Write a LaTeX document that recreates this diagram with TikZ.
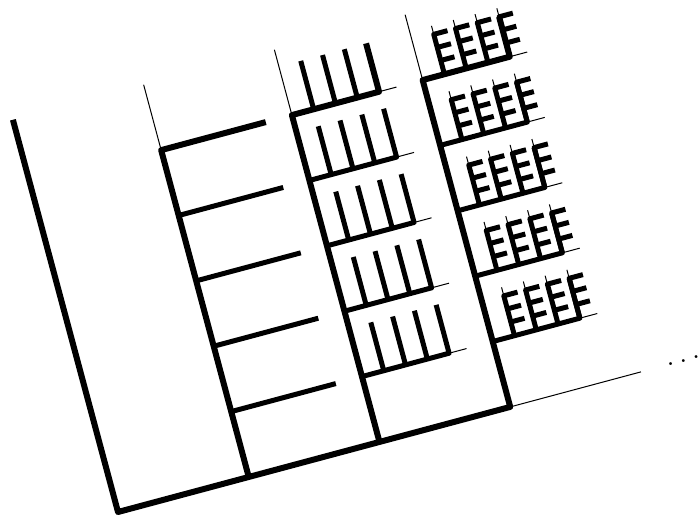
\documentclass[tikz,border=0pt]{standalone}
\usepackage{tikz}
\usetikzlibrary{calc}
\tikzset{
    post/.style ={draw=black, line width=2.4pt, line join=round},
    rung/.style ={draw=black, line width=2pt, line join=round},
    tine/.style ={draw=black, line width=2pt, line join=round},
    hair/.style ={draw=black, line width=0.4pt},
    lbl/.style  ={font=\large, inner sep=0pt, anchor=base}
}
\newcommand{\ebar}{0.61}   % thick part of a small prong
\newcommand{\etop}{0.74}   % full height of a small prong

\begin{document}
\begin{tikzpicture}[x=0.4pt, y=0.4pt]
  \useasboundingbox (-118,-4) rectangle (582,512);
  \begin{scope}[rotate=15, x=27.07pt, y=27.07pt]
    % outer frame: left post, base and last column
    \draw[post] (0,6) -- (0,0) -- (6,0) -- (6,5) -- (7.333,5) -- (7.333,5+\ebar);
    \draw[hair] (6,0) -- (8,0);
    \draw[hair] (6,5) -- (6,6);
    \node[lbl, rotate=15] (dots) at (8.65,-0.022) {$\ldots$};

    % second column
    \draw[post] (2,0) -- (2,5) -- (3.6,5);
    \draw[hair] (2,5) -- (2,6);
    \foreach \j in {1,...,4}
      \draw[rung] (2,\j) -- (3.6,\j);

    % third column
    \draw[post] (4,0) -- (4,5) -- (5.333,5) -- (5.333,5+\etop);
    \draw[hair] (4,5) -- (4,6);
    \foreach \j in {1,...,5} {
      \ifnum\j<5
        \draw[rung] (4,\j) -- (5.333,\j) -- (5.333,\j+\etop);
      \fi
      \draw[hair] (5.333,\j) -- (5.6,\j);
      \foreach \k in {1,2,3}
        \draw[rung] (4+\k/3,\j) -- ++(0,\etop);
    }

    % fourth column
    \foreach \j in {1,...,5} {
      \ifnum\j<5
        \draw[rung] (6,\j) -- (7.333,\j) -- (7.333,\j+\ebar);
      \fi
      \draw[hair] (7.333,\j) -- (7.6,\j);
      \foreach \k in {1,...,4} {
        \draw[tine] (6+\k/3,\j) -- (6+\k/3,\j+\ebar) -- ++(0.21,0);
        \draw[tine] (6+\k/3,\j+0.21) -- ++(0.21,0);
        \draw[tine] (6+\k/3,\j+0.41) -- ++(0.21,0);
        \draw[hair] (6+\k/3,\j+\ebar) -- (6+\k/3,\j+\etop);
      }
    }
  \end{scope}
\end{tikzpicture}
\end{document}
